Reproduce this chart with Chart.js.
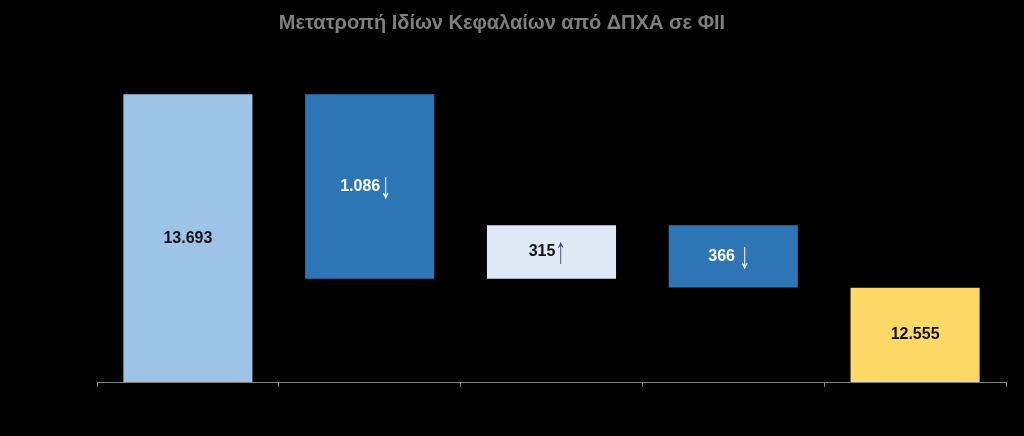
<!DOCTYPE html>
<html>
<head>
<meta charset="utf-8">
<script src="https://cdn.jsdelivr.net/npm/chart.js@4/dist/chart.umd.min.js"></script>
<style>
  html, body { margin: 0; padding: 0; background: #000; }
  #wrap { width: 1024px; height: 436px; }
</style>
</head>
<body>
<div id="wrap"><canvas id="chart"></canvas></div>
<script>
  const titleText = "Μετατροπή Ιδίων Κεφαλαίων από ΔΠΧΑ σε ΦΙΙ";
  const categories = ["ΔΠΧΑ", "Μείωση", "Αύξηση", "Μείωση 2", "ΦΙΙ"];
  const startValue = 13693;
  const changes = [-1086, 315, -366];
  const endValue = 12555;
  const valueLabels = ["13.693", "1.086", "315", "366 ", "12.555"];
  const arrowLabels = ["", "↓", "↑", "↓", ""];
  const barColors = ["#9dc3e6", "#2e75b6", "#deebf7", "#2e75b6", "#ffd966"];
  const labelColors = ["#111111", "#ffffff", "#111111", "#ffffff", "#111111"];
  const arrowColors = ["#111111", "#ffffff", "#44546a", "#ffffff", "#111111"];
  const yMin = 12000;
  const yMax = 14000;

  // floating ranges for the waterfall
  const ranges = [[yMin, startValue]];
  let running = startValue;
  changes.forEach((c) => {
    const next = running + c;
    ranges.push([Math.min(running, next), Math.max(running, next)]);
    running = next;
  });
  ranges.push([yMin, endValue]);

  const numFont = "bold 16px 'Liberation Sans', Arial, sans-serif";
  const arrowFont = "normal 22px 'Liberation Sans', Arial, sans-serif";

  const valueLabelPlugin = {
    id: "valueLabel",
    afterDatasetsDraw(chart) {
      const { ctx } = chart;
      const meta = chart.getDatasetMeta(0);
      ctx.save();
      ctx.textBaseline = "middle";
      ctx.textAlign = "left";
      meta.data.forEach((bar, i) => {
        const props = bar.getProps(["x", "y", "base"], true);
        const cy = (props.y + props.base) / 2;
        ctx.font = numFont;
        const w1 = ctx.measureText(valueLabels[i]).width;
        ctx.font = arrowFont;
        const w2 = arrowLabels[i] ? ctx.measureText(arrowLabels[i]).width : 0;
        const x0 = props.x - (w1 + w2) / 2 - (arrowLabels[i] ? 4 : 0);
        ctx.font = numFont;
        ctx.fillStyle = labelColors[i];
        ctx.fillText(valueLabels[i], x0, cy);
        if (arrowLabels[i]) {
          // tall thin arrow, stretched vertically like the original
          ctx.save();
          ctx.translate(x0 + w1, cy + 1);
          ctx.scale(1, 1.7);
          ctx.font = arrowFont;
          ctx.fillStyle = arrowColors[i];
          ctx.fillText(arrowLabels[i], 0, 0);
          ctx.restore();
        }
      });
      ctx.restore();
    },
  };

  const titlePlugin = {
    id: "leftTitle",
    afterDraw(chart) {
      const { ctx } = chart;
      ctx.save();
      ctx.font = "bold 20px 'Liberation Sans', Arial, sans-serif";
      ctx.fillStyle = "#7f7f7f";
      ctx.textAlign = "center";
      ctx.textBaseline = "middle";
      ctx.fillText(titleText, 502, 23);
      ctx.restore();
    },
  };

  new Chart(document.getElementById("chart"), {
    type: "bar",
    data: {
      labels: categories,
      datasets: [
        {
          data: ranges,
          backgroundColor: barColors,
          borderWidth: 0,
          barPercentage: 1,
          categoryPercentage: 0.71,
        },
      ],
    },
    plugins: [valueLabelPlugin, titlePlugin],
    options: {
      responsive: true,
      maintainAspectRatio: false,
      animation: false,
      layout: { padding: { left: 97, right: 18, top: 42, bottom: 49 } },
      scales: {
        x: {
          ticks: { display: false },
          grid: { drawOnChartArea: false, drawTicks: true, tickLength: 5, color: "#7f7f7f" },
          border: { color: "#7f7f7f", width: 1 },
        },
        y: {
          display: false,
          min: yMin,
          max: yMax,
        },
      },
      plugins: {
        legend: { display: false },
        tooltip: { enabled: false },
        title: { display: false },
      },
    },
  });
</script>
</body>
</html>
